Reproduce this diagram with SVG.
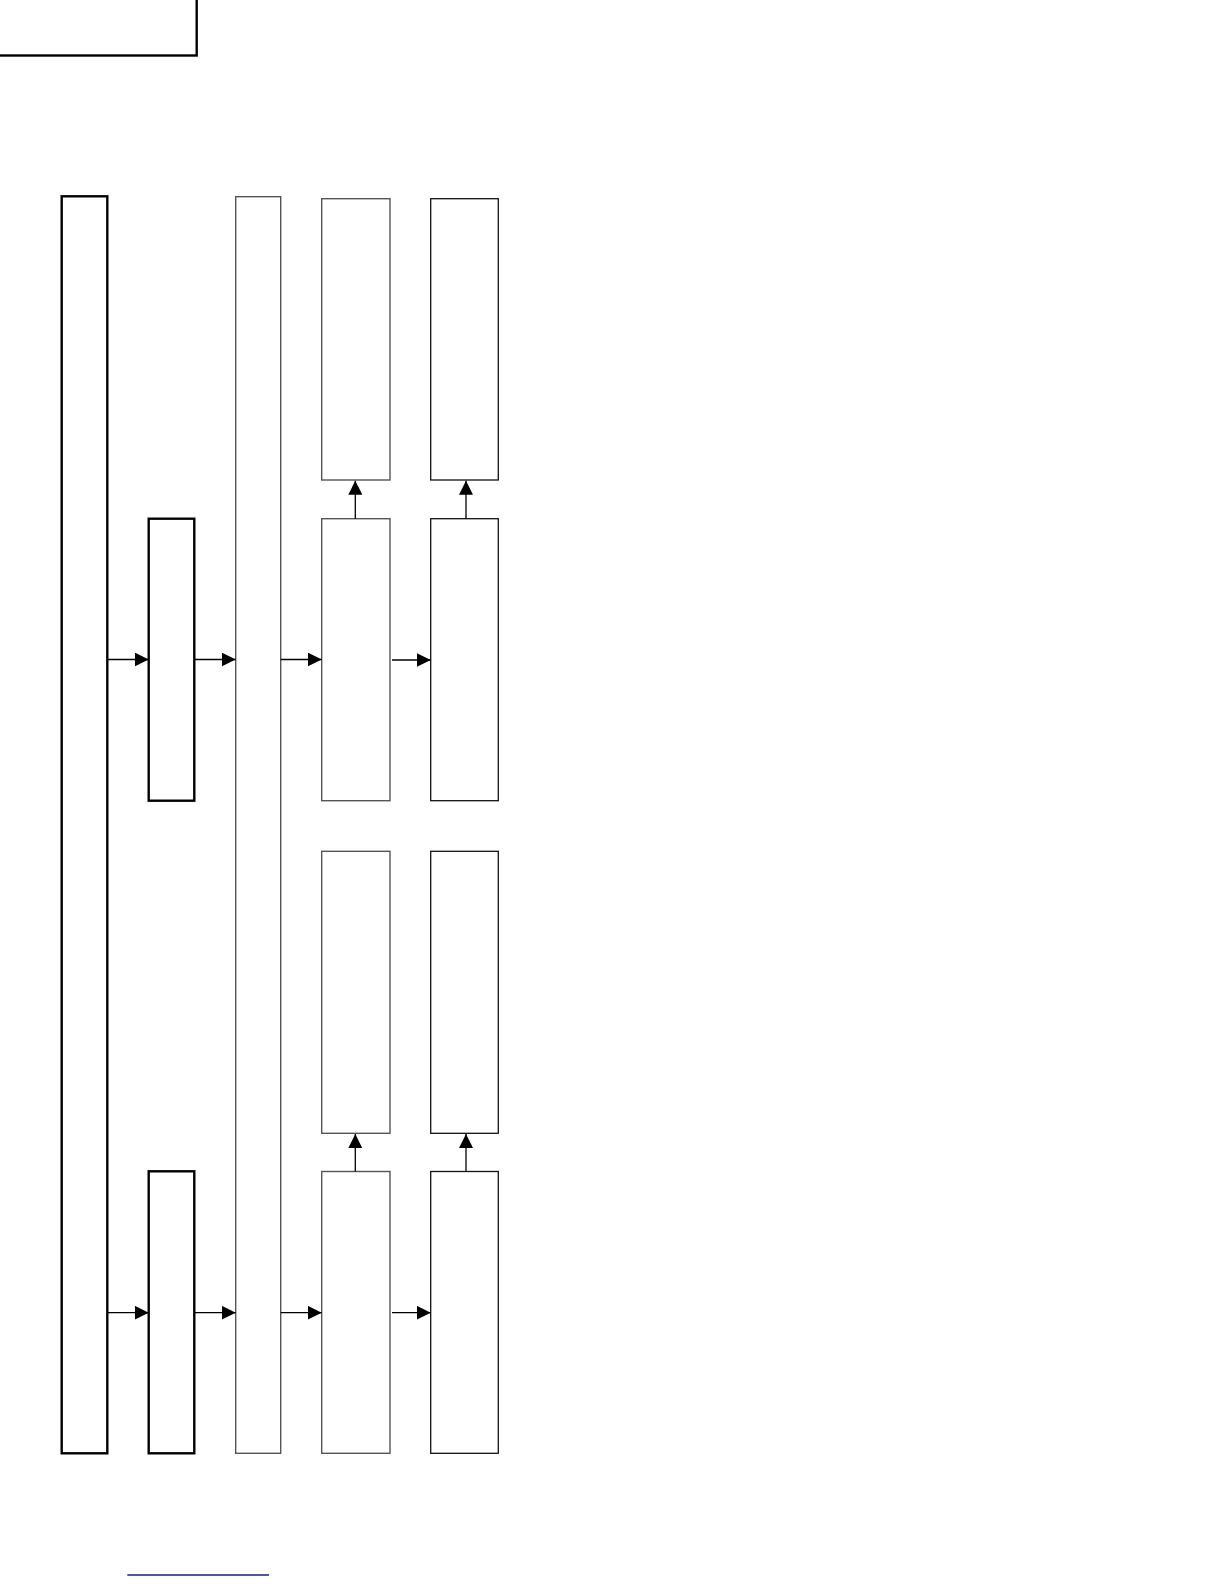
<svg xmlns="http://www.w3.org/2000/svg" width="1224" height="1584" viewBox="0 0 1224 1584">
<style>
.thick{fill:#fff;stroke:#000;stroke-width:2.4}
.thin{fill:#fff;stroke:#555;stroke-width:1.4}
.thinb{fill:#fff;stroke:#111;stroke-width:1.3}
.conn{stroke:#000;stroke-width:1.3;fill:none}
</style>
<defs>
<marker id="ah" markerWidth="14" markerHeight="14" refX="14" refY="7" orient="auto" markerUnits="userSpaceOnUse">
<path d="M0,0 L14,7 L0,14 Z" fill="#000"/>
</marker>
</defs>
<rect width="1224" height="1584" fill="#fff"/>
<g id="corner"><rect class="thick" x="-3" y="-3" width="199.7" height="58.5" stroke="#222"/></g>
<g id="nA"><rect class="thick" x="61.7" y="196.3" width="45.6" height="1257"/></g>
<g id="nB1"><rect class="thick" x="148.7" y="518.7" width="45.6" height="282"/></g>
<g id="nB2"><rect class="thick" x="148.7" y="1171.3" width="45.6" height="282"/></g>
<g id="nC"><rect class="thin" x="235.7" y="196.7" width="45" height="1256.6"/></g>
<g id="nD1"><rect class="thin" x="321.7" y="198.7" width="68.3" height="281.3"/></g>
<g id="nD2"><rect class="thin" x="321.7" y="518.7" width="68.3" height="282"/></g>
<g id="nD3"><rect class="thin" x="321.7" y="851.3" width="68.3" height="282"/></g>
<g id="nD4"><rect class="thin" x="321.7" y="1171.5" width="68.3" height="281.8"/></g>
<g id="nE1"><rect class="thinb" x="430.7" y="198.7" width="67.6" height="281.3"/></g>
<g id="nE2"><rect class="thinb" x="430.7" y="518.7" width="67.6" height="282"/></g>
<g id="nE3"><rect class="thinb" x="430.7" y="851.3" width="67.6" height="282"/></g>
<g id="nE4"><rect class="thinb" x="430.7" y="1171.5" width="67.6" height="281.8"/></g>
<g id="connectors">
<line class="conn" x1="107.3" y1="659.5" x2="148.7" y2="659.5" marker-end="url(#ah)"/>
<line class="conn" x1="194.3" y1="659.5" x2="235.7" y2="659.5" marker-end="url(#ah)"/>
<line class="conn" x1="280.7" y1="659.5" x2="321.7" y2="659.5" marker-end="url(#ah)"/>
<line class="conn" x1="392" y1="660" x2="430.7" y2="660" marker-end="url(#ah)"/>
<line class="conn" x1="107.3" y1="1312.7" x2="148.7" y2="1312.7" marker-end="url(#ah)"/>
<line class="conn" x1="194.3" y1="1312.7" x2="235.7" y2="1312.7" marker-end="url(#ah)"/>
<line class="conn" x1="280.7" y1="1312.7" x2="321.7" y2="1312.7" marker-end="url(#ah)"/>
<line class="conn" x1="392" y1="1312.7" x2="430.7" y2="1312.7" marker-end="url(#ah)"/>
<line class="conn" x1="355.3" y1="518.7" x2="355.3" y2="480.7" marker-end="url(#ah)"/>
<line class="conn" x1="466" y1="518.7" x2="466" y2="480.7" marker-end="url(#ah)"/>
<line class="conn" x1="355.3" y1="1171.5" x2="355.3" y2="1134" marker-end="url(#ah)"/>
<line class="conn" x1="466" y1="1171.5" x2="466" y2="1134" marker-end="url(#ah)"/>
</g>
<line x1="127.3" y1="1575" x2="269" y2="1575" stroke="#1a1a8c" stroke-width="1.5"/>
</svg>
